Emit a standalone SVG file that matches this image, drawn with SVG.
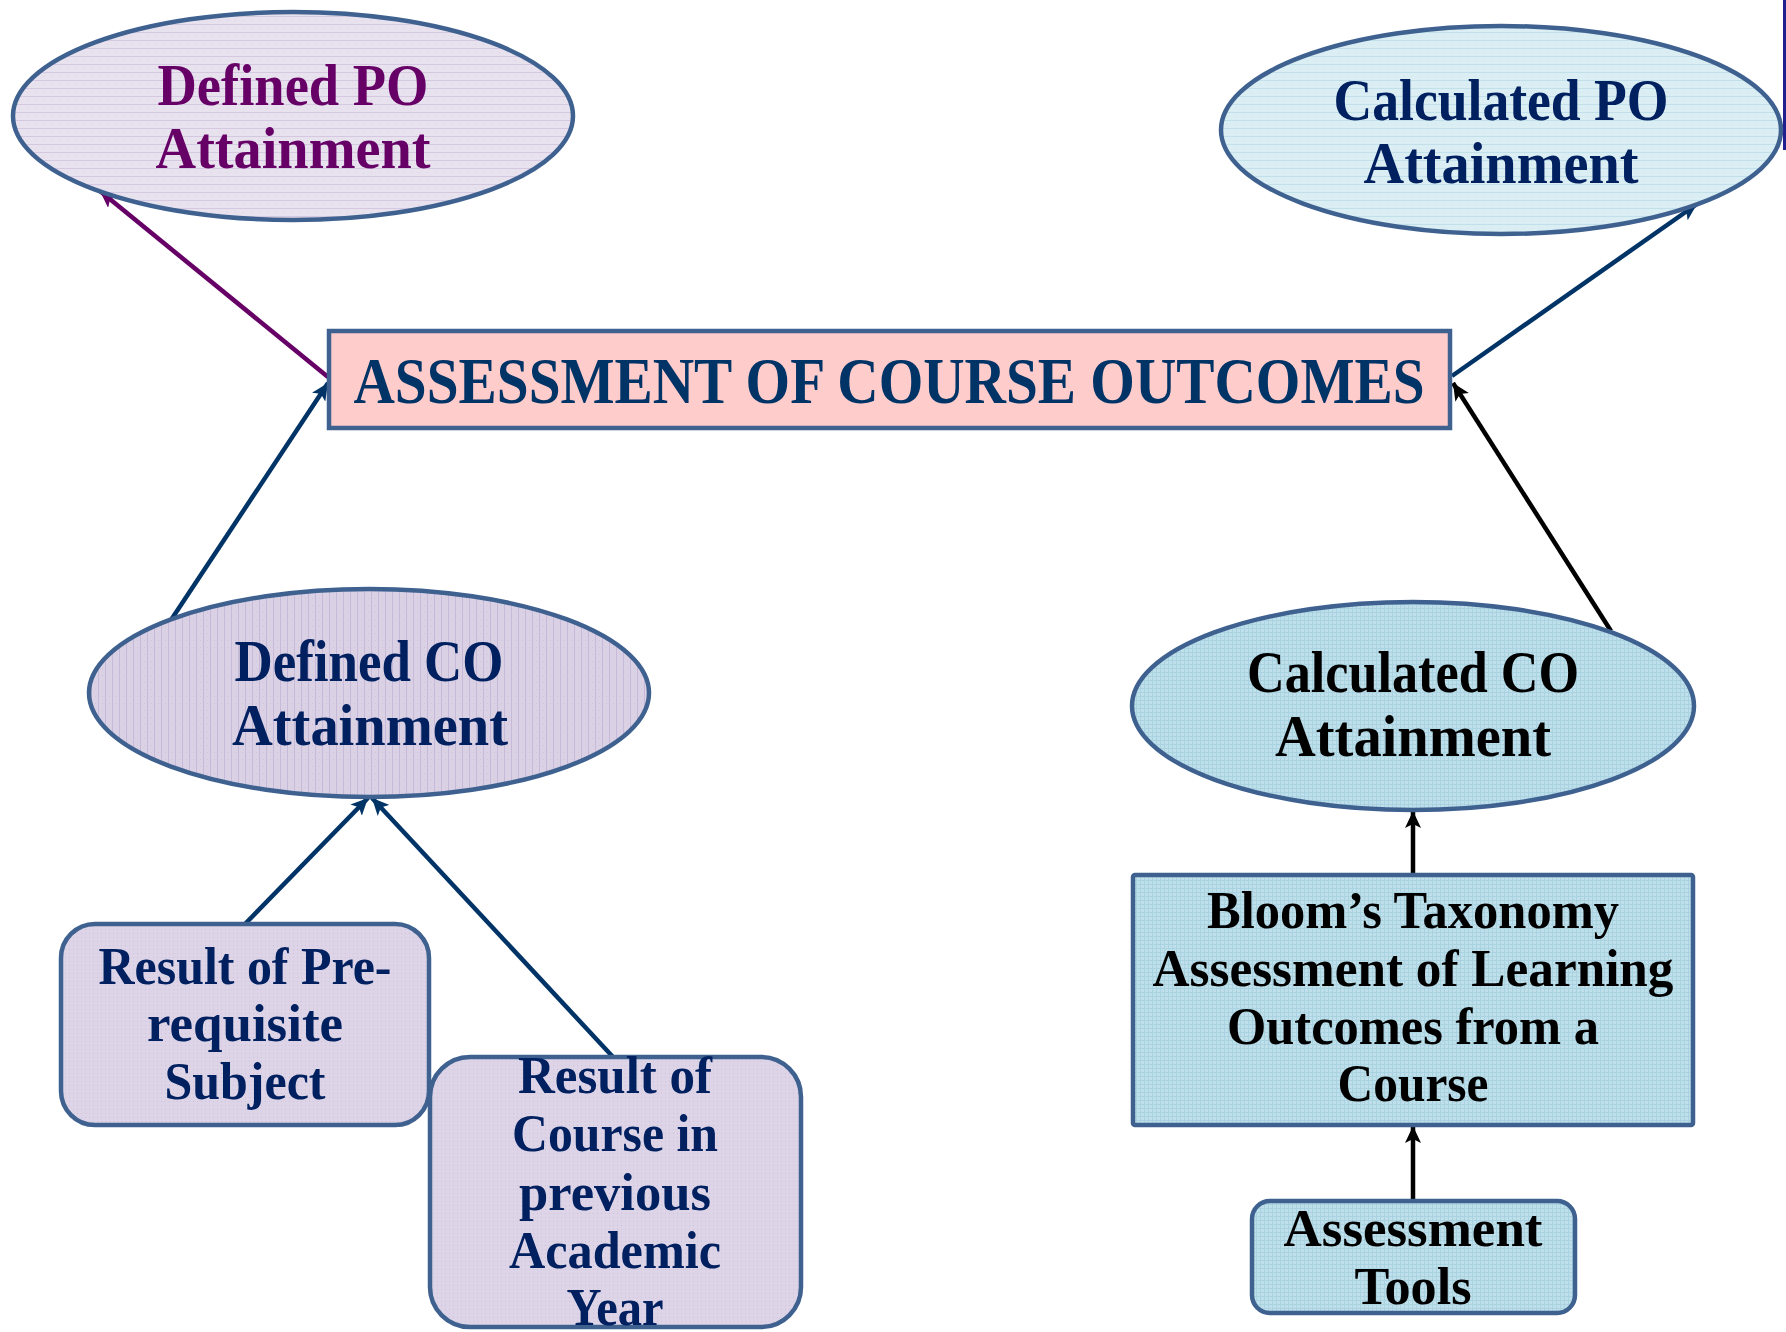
<svg xmlns="http://www.w3.org/2000/svg" width="1786" height="1332" viewBox="0 0 1786 1332">
<style>
  text { font-family: "Liberation Serif", "Times New Roman", serif; font-weight: bold; text-anchor: middle; }
  .shape { stroke: #3E6190; stroke-width: 4.5; }
  .conn { stroke-width: 4.5; fill: none; }
  .t-el { font-size: 60px; }
  .t-box { font-size: 52px; }
</style>
<defs>
  <pattern id="pHorizLav" width="8" height="8" patternUnits="userSpaceOnUse">
    <rect width="8" height="8" fill="#E8E2EF"/>
    <line x1="0" y1="0.5" x2="8" y2="0.5" stroke="#D4C9E0" stroke-width="1"/>
    <rect x="3" y="4" width="1" height="1" fill="#DCD2E6"/>
  </pattern>
  <pattern id="pHorizBlue" width="8" height="8" patternUnits="userSpaceOnUse">
    <rect width="8" height="8" fill="#DBEEF4"/>
    <line x1="0" y1="0.5" x2="8" y2="0.5" stroke="#C1E0EA" stroke-width="1"/>
    <rect x="3" y="4" width="1" height="1" fill="#CCE6EE"/>
  </pattern>
  <pattern id="pVertLav" width="7" height="7" patternUnits="userSpaceOnUse">
    <rect width="7" height="7" fill="#DAD1E5"/>
    <line x1="0.5" y1="0" x2="0.5" y2="7" stroke="#C7B9D9" stroke-width="1"/>
    <rect x="4" y="3" width="1" height="1" fill="#CFC3DE"/>
  </pattern>
  <pattern id="pGridBlue" width="4" height="4" patternUnits="userSpaceOnUse">
    <rect width="4" height="4" fill="#BFE0EB"/>
    <line x1="0" y1="0.5" x2="4" y2="0.5" stroke="#AAD3E1" stroke-width="1"/>
    <line x1="0.5" y1="0" x2="0.5" y2="4" stroke="#AAD3E1" stroke-width="1"/>
  </pattern>
  <pattern id="pDotLav" width="4" height="4" patternUnits="userSpaceOnUse">
    <rect width="4" height="4" fill="#DDD5E7"/>
    <rect x="1" y="1" width="1" height="1" fill="#CDC1DC"/>
  </pattern>
  <marker id="arPurple" markerUnits="userSpaceOnUse" markerWidth="18" markerHeight="16" refX="17" refY="8" orient="auto">
    <path d="M0,0 L17,8 L0,16 L4,8 z" fill="#660066"/>
  </marker>
  <marker id="arBlue" markerUnits="userSpaceOnUse" markerWidth="18" markerHeight="16" refX="17" refY="8" orient="auto">
    <path d="M0,0 L17,8 L0,16 L4,8 z" fill="#003366"/>
  </marker>
  <marker id="arBlack" markerUnits="userSpaceOnUse" markerWidth="18" markerHeight="16" refX="17" refY="8" orient="auto">
    <path d="M0,0 L17,8 L0,16 L4,8 z" fill="#000000"/>
  </marker>
</defs>

<rect width="1786" height="1332" fill="#FFFFFF"/>
<line x1="1784.5" y1="0" x2="1784.5" y2="150" stroke="#1F1F8F" stroke-width="3"/>

<g id="connectors">
  <line class="conn" x1="328" y1="377" x2="100" y2="191" stroke="#660066" marker-end="url(#arPurple)"/>
  <line class="conn" x1="171" y1="620" x2="328" y2="383" stroke="#003366" marker-end="url(#arBlue)"/>
  <line class="conn" x1="1452" y1="376" x2="1697" y2="204" stroke="#003366" marker-end="url(#arBlue)"/>
  <line class="conn" x1="1611" y1="631" x2="1453" y2="383" stroke="#000000" marker-end="url(#arBlack)"/>
  <line class="conn" x1="245" y1="924" x2="368" y2="798" stroke="#003366" marker-end="url(#arBlue)"/>
  <line class="conn" x1="613" y1="1057" x2="372" y2="798" stroke="#003366" marker-end="url(#arBlue)"/>
  <line class="conn" x1="1413" y1="874" x2="1413" y2="811" stroke="#000000" marker-end="url(#arBlack)"/>
  <line class="conn" x1="1413" y1="1200" x2="1413" y2="1126" stroke="#000000" marker-end="url(#arBlack)"/>
</g>

<g id="defined-po">
  <ellipse class="shape" cx="293" cy="116" rx="280" ry="104" fill="url(#pHorizLav)"/>
  <text class="t-el" x="293" y="105" fill="#660066" textLength="271" lengthAdjust="spacingAndGlyphs">Defined PO</text>
  <text class="t-el" x="293" y="168" fill="#660066" textLength="275" lengthAdjust="spacingAndGlyphs">Attainment</text>
</g>

<g id="calculated-po">
  <ellipse class="shape" cx="1501" cy="130" rx="280" ry="104" fill="url(#pHorizBlue)"/>
  <text class="t-el" x="1501" y="120" fill="#002060" textLength="335" lengthAdjust="spacingAndGlyphs">Calculated PO</text>
  <text class="t-el" x="1501" y="183" fill="#002060" textLength="275" lengthAdjust="spacingAndGlyphs">Attainment</text>
</g>

<g id="assessment-co">
  <rect class="shape" x="329" y="331" width="1121" height="97" fill="#FFCCCC"/>
  <text x="889" y="403" font-size="66" fill="#003366" textLength="1071" lengthAdjust="spacingAndGlyphs">ASSESSMENT OF COURSE OUTCOMES</text>
</g>

<g id="defined-co">
  <ellipse class="shape" cx="369" cy="693" rx="280" ry="104" fill="url(#pVertLav)"/>
  <text class="t-el" x="369" y="681" fill="#002060" textLength="269" lengthAdjust="spacingAndGlyphs">Defined CO</text>
  <text class="t-el" x="370" y="745" fill="#002060" textLength="276" lengthAdjust="spacingAndGlyphs">Attainment</text>
</g>

<g id="calculated-co">
  <ellipse class="shape" cx="1413" cy="706" rx="281" ry="104" fill="url(#pGridBlue)"/>
  <text class="t-el" x="1413" y="692" fill="#000000" textLength="332" lengthAdjust="spacingAndGlyphs">Calculated CO</text>
  <text class="t-el" x="1413" y="756" fill="#000000" textLength="276" lengthAdjust="spacingAndGlyphs">Attainment</text>
</g>

<g id="result-prereq">
  <rect class="shape" x="61" y="924" width="368" height="201" rx="34" ry="34" fill="url(#pDotLav)"/>
  <text class="t-box" x="245" y="984" fill="#002060" textLength="293" lengthAdjust="spacingAndGlyphs">Result of Pre-</text>
  <text class="t-box" x="245" y="1041" fill="#002060" textLength="196" lengthAdjust="spacingAndGlyphs">requisite</text>
  <text class="t-box" x="245" y="1099" fill="#002060" textLength="161" lengthAdjust="spacingAndGlyphs">Subject</text>
</g>

<g id="result-course">
  <rect class="shape" x="430" y="1057" width="371" height="270" rx="40" ry="40" fill="url(#pDotLav)"/>
  <text class="t-box" x="615" y="1093" fill="#002060" textLength="194" lengthAdjust="spacingAndGlyphs">Result of</text>
  <text class="t-box" x="615" y="1151" fill="#002060" textLength="206" lengthAdjust="spacingAndGlyphs">Course in</text>
  <text class="t-box" x="615" y="1210" fill="#002060" textLength="192" lengthAdjust="spacingAndGlyphs">previous</text>
  <text class="t-box" x="615" y="1268" fill="#002060" textLength="212" lengthAdjust="spacingAndGlyphs">Academic</text>
  <text class="t-box" x="615" y="1325" fill="#002060" textLength="97" lengthAdjust="spacingAndGlyphs">Year</text>
</g>

<g id="blooms">
  <rect class="shape" x="1133" y="875" width="560" height="250" rx="2" fill="url(#pGridBlue)"/>
  <text class="t-box" x="1413" y="928" fill="#000000" textLength="412" lengthAdjust="spacingAndGlyphs">Bloom’s Taxonomy</text>
  <text class="t-box" x="1413" y="986" fill="#000000" textLength="521" lengthAdjust="spacingAndGlyphs">Assessment of Learning</text>
  <text class="t-box" x="1413" y="1044" fill="#000000" textLength="372" lengthAdjust="spacingAndGlyphs">Outcomes from a</text>
  <text class="t-box" x="1413" y="1101" fill="#000000" textLength="151" lengthAdjust="spacingAndGlyphs">Course</text>
</g>

<g id="assessment-tools">
  <rect class="shape" x="1252" y="1201" width="323" height="112" rx="18" ry="18" fill="url(#pGridBlue)"/>
  <text class="t-box" x="1413" y="1246" fill="#000000" textLength="259" lengthAdjust="spacingAndGlyphs">Assessment</text>
  <text class="t-box" x="1413" y="1304" fill="#000000" textLength="117" lengthAdjust="spacingAndGlyphs">Tools</text>
</g>
</svg>
